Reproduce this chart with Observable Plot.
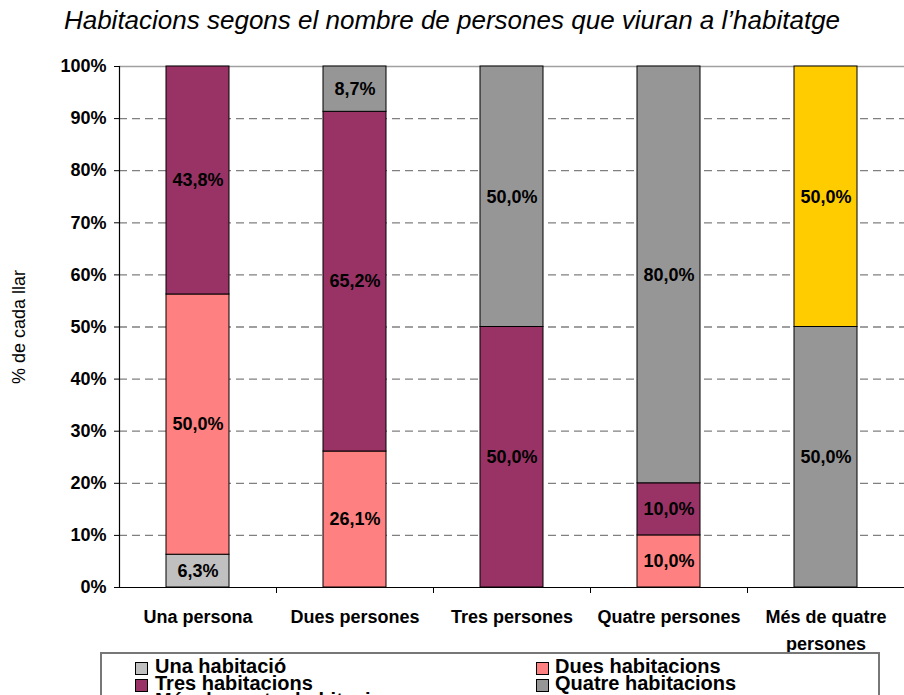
<!DOCTYPE html>
<html><head><meta charset="utf-8">
<script src="https://cdn.jsdelivr.net/npm/d3@7"></script>
<script src="https://cdn.jsdelivr.net/npm/@observablehq/plot@0.6"></script>
<style>
html,body{margin:0;padding:0;background:#fff;overflow:hidden}
#wrap{position:relative;width:904px;height:695px;overflow:hidden;font-family:"Liberation Sans",Arial,sans-serif;background:#fff}
#title{position:absolute;left:0;top:5px;width:904px;text-align:center;font-style:italic;font-size:26px;line-height:30px;color:#000;white-space:nowrap}
#legend{position:absolute;left:100px;top:652px;width:776px;height:60px;border:2px solid #777;background:#fff}
.item{position:absolute;font-weight:bold;font-size:20px;line-height:17px;white-space:nowrap;color:#000}
.sw{position:absolute;width:11px;height:11px;border:1px solid #000}
</style></head><body>
<div id="wrap"><div id="chart"></div><div id="title"></div><div id="legend"></div></div>
<script>
const titleText = "Habitacions segons el nombre de persones que viuran a l\u2019habitatge";
const yLabel = "% de cada llar";
const categories = ["Una persona","Dues persones","Tres persones","Quatre persones","Més de quatre persones"];
const xTickLabels = ["Una persona","Dues persones","Tres persones","Quatre persones","Més de quatre\npersones"];
const series = ["Una habitació","Dues habitacions","Tres habitacions","Quatre habitacions","Més de quatre habitacions"];
const colors = ["#C0C0C0","#FF8080","#993366","#969696","#FFCC00"];
const unaHabitacio = [6.3, 0, 0, 0, 0];
const duesHabitacions = [50.0, 26.1, 0, 10.0, 0];
const tresHabitacions = [43.8, 65.2, 50.0, 10.0, 0];
const quatreHabitacions = [0, 8.7, 50.0, 80.0, 50.0];
const mesHabitacions = [0, 0, 0, 0, 50.0];
const yTicks = [0,10,20,30,40,50,60,70,80,90,100];

const seriesValues = [unaHabitacio, duesHabitacions, tresHabitacions, quatreHabitacions, mesHabitacions];
const rows = [];
series.forEach((s, j) => categories.forEach((c, i) => {
  const v = seriesValues[j][i];
  if (v > 0) rows.push({cat: c, series: s, value: v});
}));
const fmt = v => v.toFixed(1).replace(".", ",") + "%";

const W = 904, H = 695, mL = 119, mR = 0, mT = 66, mB = 108;
const step = (W - mL - mR) / categories.length;
const frameH = H - mT - mB;
const font = '"Liberation Sans", Arial, sans-serif';

const chart = Plot.plot({
  width: W, height: H, marginLeft: mL, marginRight: mR, marginTop: mT, marginBottom: mB,
  style: {fontFamily: font, background: "white", overflow: "visible", color: "#000"},
  x: {domain: categories, paddingInner: 0.6, paddingOuter: 0.3, align: 0.5},
  y: {domain: [0, 1]},
  color: {domain: series, range: colors},
  marks: [
    Plot.ruleY(yTicks.filter(t => t > 0 && t < 100).map(t => t / 100), {stroke: "#808080", strokeWidth: 1.3, strokeDasharray: "8,5"}),
    Plot.ruleY([1], {stroke: "#a0a0a0", strokeWidth: 1.3}),
    Plot.barY(rows, Plot.stackY({x: "cat", y: "value", z: "series", fill: "series", offset: "normalize", stroke: "#000", strokeWidth: 1})),
    Plot.text(rows, Plot.stackY({x: "cat", y: "value", z: "series", offset: "normalize", text: d => fmt(d.value), fontSize: 18, fontWeight: "bold", fill: "#000"})),
    Plot.ruleY([0], {stroke: "#000", strokeWidth: 1.2}),
    Plot.ruleX([categories[0]], {dx: -step / 2, y1: 0, y2: 1, stroke: "#000", strokeWidth: 1.2}),
    Plot.ruleX(categories.slice(1), {dx: -step / 2, insetTop: frameH, insetBottom: -6, stroke: "#000"}),
    Plot.axisY({ticks: yTicks.map(t => t / 100), tickFormat: d => Math.round(d * 100) + "%", tickSize: 5, tickPadding: 8, fontSize: 18, fontWeight: "bold", label: null}),
    Plot.axisX({tickFormat: d => xTickLabels[categories.indexOf(d)], tickSize: 0, tickPadding: 16, fontSize: 18, fontWeight: "bold", lineHeight: 1.5, label: null}),
    Plot.text([yLabel], {frameAnchor: "left", textAnchor: "middle", rotate: -90, dx: -100, fontSize: 18, fill: "#000"})
  ]
});
document.getElementById("chart").appendChild(chart);
document.getElementById("title").textContent = titleText;

const legend = document.getElementById("legend");
series.forEach((s, k) => {
  const col = k % 2, row = Math.floor(k / 2);
  const sw = document.createElement("div");
  sw.className = "sw";
  sw.style.background = colors[k];
  sw.style.left = (col ? 434 : 33) + "px";
  sw.style.top = (8 + row * 17) + "px";
  legend.appendChild(sw);
  const t = document.createElement("div");
  t.className = "item";
  t.textContent = s;
  t.style.left = (col ? 453 : 53) + "px";
  t.style.top = (4 + row * 17) + "px";
  legend.appendChild(t);
});
</script>
</body></html>
